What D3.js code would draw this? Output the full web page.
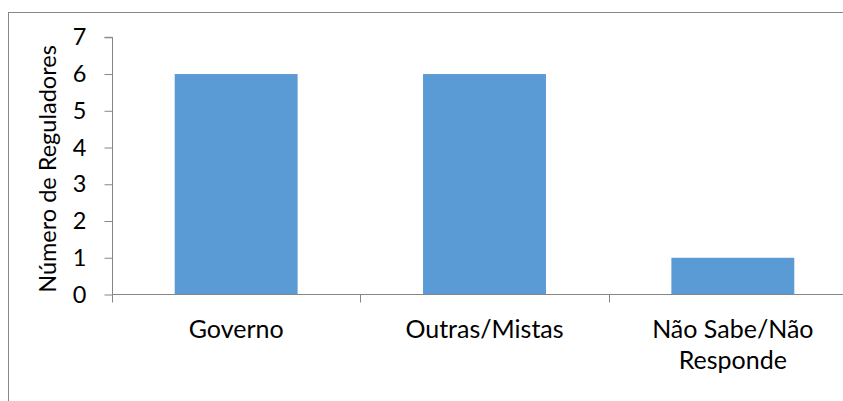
<!DOCTYPE html>
<html>
<head>
<meta charset="utf-8">
<script src="https://cdn.jsdelivr.net/npm/d3@7"></script>
<style>
  html, body { margin: 0; padding: 0; background: #fff; }
  svg { display: block; }
  text { font-family: Lato, "Open Sans", sans-serif; fill: #000; }
</style>
</head>
<body>
<svg id="chart" width="843" height="401"></svg>
<script>
const categories = ["Governo", "Outras/Mistas", "Não Sabe/Não Responde"];
const values = [6, 6, 1];
const yTicks = [0, 1, 2, 3, 4, 5, 6, 7];
const yTitle = "Número de Reguladores";

const svg = d3.select("#chart");
const FS = 25;

// chart-area border (extends past the right and bottom of the picture)
svg.append("rect")
  .attr("x", 8.5).attr("y", 12.5)
  .attr("width", 900).attr("height", 450)
  .attr("fill", "none").attr("stroke", "#878787").attr("stroke-width", 1);

const x = d3.scaleBand()
  .domain(categories)
  .range([112, 857])
  .paddingInner(0.505)
  .paddingOuter(0.2525);

const y = d3.scaleLinear()
  .domain([0, 7])
  .range([294.5, 37.3]);

// bars
svg.append("g").selectAll("rect")
  .data(categories)
  .join("rect")
  .attr("x", d => x(d))
  .attr("width", x.bandwidth())
  .attr("y", (d, i) => y(values[i]))
  .attr("height", (d, i) => y(0) - y(values[i]))
  .attr("fill", "#5B9BD5");

// y axis
const yAxis = svg.append("g")
  .attr("transform", "translate(112.5,0)")
  .call(d3.axisLeft(y).tickValues(yTicks).tickFormat(d3.format("d")).tickSize(8).tickPadding(18));
yAxis.select(".domain").attr("stroke", "#868686").attr("d", `M-8,${y(7)}H0V${y(0)}`);
yAxis.selectAll(".tick line").attr("stroke", "#868686");
yAxis.selectAll(".tick text").attr("font-size", 23.5).attr("font-family", "Lato");

// x axis
const step = x.step();
const xAxis = svg.append("g")
  .attr("transform", `translate(0,${y(0)})`);
xAxis.append("line")
  .attr("x1", 112).attr("x2", 857).attr("y1", 0).attr("y2", 0)
  .attr("stroke", "#868686");
const boundaries = d3.range(categories.length + 1).map(i => 112 + i * step);
xAxis.selectAll("line.tk")
  .data(boundaries)
  .join("line")
  .attr("class", "tk")
  .attr("x1", d => Math.round(d) + 0.5).attr("x2", d => Math.round(d) + 0.5)
  .attr("y1", 0).attr("y2", 8)
  .attr("stroke", "#868686");

// category labels with wrapping
const labels = xAxis.selectAll("text.cat")
  .data(categories)
  .join("text")
  .attr("class", "cat")
  .attr("text-anchor", "middle")
  .attr("font-size", FS)
  .attr("x", d => x(d) + x.bandwidth() / 2)
  .attr("y", 43.5);

labels.each(function(d) {
  const t = d3.select(this);
  const words = d.split(" ");
  const maxW = 200;
  let lines = [];
  let cur = [];
  const probe = t.append("tspan");
  words.forEach(w => {
    const test = cur.concat([w]).join(" ");
    probe.text(test);
    if (probe.node().getComputedTextLength() > maxW && cur.length) {
      lines.push(cur.join(" "));
      cur = [w];
    } else {
      cur.push(w);
    }
  });
  lines.push(cur.join(" "));
  probe.remove();
  lines.forEach((ln, i) => {
    t.append("tspan")
      .attr("x", x(d) + x.bandwidth() / 2)
      .attr("dy", i === 0 ? 0 : 31)
      .text(ln);
  });
});

// y axis title
svg.append("text")
  .attr("transform", `translate(56,169) rotate(-90)`)
  .attr("text-anchor", "middle")
  .attr("font-size", 23.5)
  .text(yTitle);
</script>
</body>
</html>
